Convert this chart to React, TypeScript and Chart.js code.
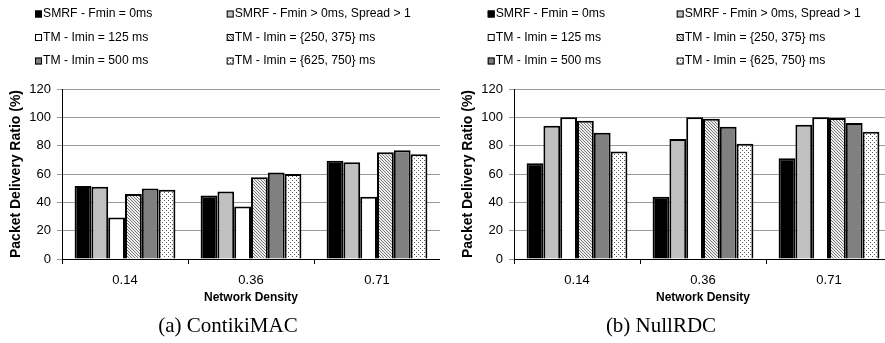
import React, { useEffect, useRef } from 'react';
import { Chart, registerables } from 'chart.js';

Chart.register(...registerables);

const categories = ['0.14', '0.36', '0.71'];
const seriesLabels = [
  'SMRF - Fmin = 0ms',
  'SMRF - Fmin > 0ms, Spread > 1',
  'TM - Imin = 125 ms',
  'TM - Imin = {250, 375} ms',
  'TM - Imin = 500 ms',
  'TM - Imin = {625, 750} ms',
];
const yTicks = [0, 20, 40, 60, 80, 100, 120];

// (a) ContikiMAC
const contikiSmrf0 = [51.5, 44.8, 69.4];
const contikiSmrfSpread = [51, 47.6, 68.3];
const contikiTm125 = [29.3, 37, 43.9];
const contikiTm250 = [45.8, 57.7, 75.3];
const contikiTm500 = [49.7, 61, 76.7];
const contikiTm625 = [48.8, 60, 73.9];

// (b) NullRDC
const nullSmrf0 = [67.6, 43.9, 71.1];
const nullSmrfSpread = [94, 84.7, 94.8];
const nullTm125 = [100, 100, 100];
const nullTm250 = [97.6, 99, 99.5];
const nullTm500 = [89.2, 93.4, 96];
const nullTm625 = [75.8, 81.4, 89.9];

const FONT = "'Liberation Sans', Arial, Helvetica, sans-serif";

function makeFills(): (string | CanvasPattern)[] {
  const tile = (size: number, bg: string, fg: string, pts: [number, number][]) => {
    const c = document.createElement('canvas');
    c.width = size;
    c.height = size;
    const g = c.getContext('2d')!;
    g.fillStyle = bg;
    g.fillRect(0, 0, size, size);
    g.fillStyle = fg;
    pts.forEach(([x, y]) => g.fillRect(x, y, 1, 1));
    const ctx = document.createElement('canvas').getContext('2d')!;
    return ctx.createPattern(c, 'repeat') as CanvasPattern;
  };
  const hatch = tile(3, '#eeeeee', '#777777', [
    [0, 0], [1, 1], [2, 2],
  ]);
  const dots = tile(4, '#ffffff', '#555555', [[0, 0], [2, 2]]);
  return ['#000000', '#c0c0c0', '#ffffff', hatch, '#808080', dots];
}

type PanelProps = {
  series: number[][];
  width: number;
  padLeft: number;
  padRight: number;
  legendX: number[];
  left: number;
};

const legendY = [14, 37.5, 61];

function Panel({ series, width, padLeft, padRight, legendX, left }: PanelProps) {
  const ref = useRef<HTMLCanvasElement>(null);
  useEffect(() => {
    if (!ref.current) return;
    const fills = makeFills();
    const legendPlugin = {
      id: 'customLegend',
      afterDraw(chart: any) {
        const ctx = chart.ctx as CanvasRenderingContext2D;
        ctx.save();
        ctx.font = `12.2px ${FONT}`;
        ctx.textBaseline = 'middle';
        ctx.textAlign = 'left';
        seriesLabels.forEach((lab, i) => {
          const x = legendX[i % 2];
          const y = legendY[Math.floor(i / 2)];
          ctx.fillStyle = fills[i] as any;
          ctx.fillRect(x, y - 3.5, 7, 7);
          ctx.strokeStyle = '#000';
          ctx.lineWidth = 1;
          ctx.strokeRect(x + 0.5, y - 3, 6, 6);
          ctx.fillStyle = '#000';
          ctx.fillText(lab, x + 8, y);
        });
        ctx.restore();
      },
    };
    const chart = new Chart(ref.current, {
      type: 'bar',
      data: {
        labels: categories,
        datasets: series.map((d, i) => ({
          label: seriesLabels[i],
          data: d,
          backgroundColor: fills[i] as any,
          borderColor: '#000',
          borderWidth: 2,
          borderSkipped: 'bottom',
          categoryPercentage: 0.8,
          barPercentage: 1,
        })),
      },
      options: {
        responsive: false,
        animation: false,
        layout: { padding: { top: 89, left: padLeft, right: padRight, bottom: 34 } },
        plugins: { legend: { display: false }, tooltip: { enabled: false } },
        scales: {
          x: {
            grid: { drawOnChartArea: false, drawTicks: true, tickLength: 5, color: '#000' },
            border: { color: '#000', width: 1 },
            ticks: { font: { size: 13, family: FONT }, color: '#000', padding: 9 },
            title: {
              display: true,
              text: 'Network Density',
              font: { size: 12, weight: 'bold', family: FONT },
              color: '#000',
              padding: { top: 4, bottom: 4 },
            },
            afterFit: (s: any) => {
              s.height = 50;
            },
          },
          y: {
            min: 0,
            max: 120,
            afterBuildTicks: (s: any) => {
              s.ticks = yTicks.map((v) => ({ value: v }));
            },
            ticks: { font: { size: 13, family: FONT }, color: '#000', padding: 6 },
            grid: {
              color: (c: any) => (c.tick && c.tick.value === 0 ? 'rgba(0,0,0,0)' : '#9a9a9a'),
              tickColor: '#9a9a9a',
              tickLength: 5,
            },
            border: { color: '#000', width: 1 },
            title: {
              display: true,
              text: 'Packet Delivery Ratio (%)',
              font: { size: 14, weight: 'bold', family: FONT },
              color: '#000',
              padding: { top: 8, bottom: 4 },
            },
            afterFit: (s: any) => {
              s.width = 62;
            },
          },
        },
      },
      plugins: [legendPlugin],
    } as any);
    return () => chart.destroy();
  }, []);
  return (
    <canvas
      ref={ref}
      width={width}
      height={343}
      style={{ position: 'absolute', left, top: 0, width, height: 343 }}
    />
  );
}

const captionStyle: React.CSSProperties = {
  position: 'absolute',
  top: 313,
  fontFamily: "'Liberation Serif', 'Times New Roman', serif",
  fontSize: 21,
  lineHeight: '24px',
  color: '#000',
  whiteSpace: 'nowrap',
  transform: 'translateX(-50%)',
};

export default function App() {
  return (
    <div
      style={{
        position: 'absolute',
        left: 0,
        top: 0,
        width: 885,
        height: 343,
        overflow: 'hidden',
        background: '#fff',
      }}
    >
      <Panel
        series={[contikiSmrf0, contikiSmrfSpread, contikiTm125, contikiTm250, contikiTm500, contikiTm625]}
        width={440}
        padLeft={0}
        padRight={0}
        legendX={[35, 226.7]}
        left={0}
      />
      <Panel
        series={[nullSmrf0, nullSmrfSpread, nullTm125, nullTm250, nullTm500, nullTm625]}
        width={460}
        padLeft={12}
        padRight={8}
        legendX={[47.7, 236.7]}
        left={440}
      />
      <div style={{ ...captionStyle, left: 228 }}>(a) ContikiMAC</div>
      <div style={{ ...captionStyle, left: 661 }}>(b) NullRDC</div>
    </div>
  );
}
